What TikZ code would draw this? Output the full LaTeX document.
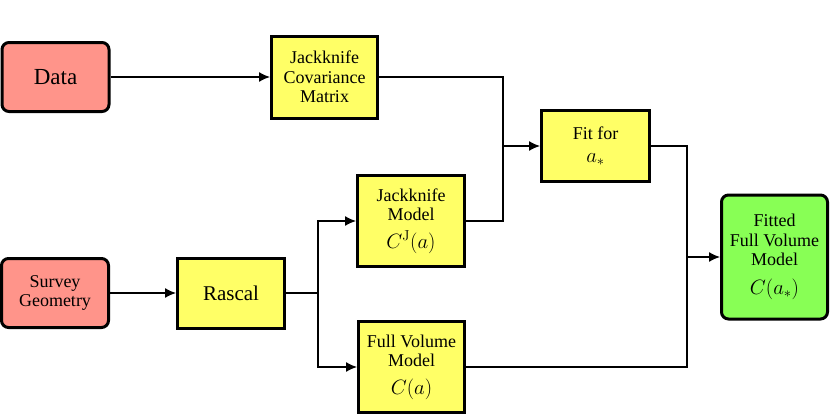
\documentclass[tikz,border=0pt]{standalone}
\usepackage[no-math]{fontspec}
\setmainfont{Liberation Serif}
\newfontfamily\timesfont{Liberation Serif}
\usetikzlibrary{arrows.meta}
\definecolor{salmon}{RGB}{255,148,138}
\definecolor{boxyellow}{RGB}{255,255,102}
\definecolor{boxgreen}{RGB}{136,255,85}
\newcommand{\mathbig}[1]{{\fontsize{21.5}{23}\selectfont #1}}
\begin{document}
\begin{tikzpicture}[x=1pt,y=-1pt,
  box/.style={draw, line width=3pt, fill=boxyellow, align=center, inner sep=0pt},
  inbox/.style={box, fill=salmon, rounded corners=7pt},
  outbox/.style={box, fill=boxgreen, rounded corners=7pt},
  conn/.style={line width=1.3pt},
  arr/.style={conn, -{Latex[length=11pt,width=10pt]}},
  mid/.style={font=\timesfont\fontsize{18}{19.5}\selectfont}]
\useasboundingbox (0,0) rectangle (830,415);

\node[inbox, minimum width=107pt, minimum height=69pt, font=\timesfont\fontsize{23}{24}\selectfont] (data) at (55.5,77) {Data};
\node[box, minimum width=106pt, minimum height=82pt, mid] (jcm) at (324.5,77) {Jackknife\\Covariance\\Matrix};
\node[inbox, minimum width=107pt, minimum height=69pt, mid] (survey) at (55,293) {Survey\\Geometry};
\node[box, minimum width=107pt, minimum height=70pt, font=\timesfont\fontsize{21}{22}\selectfont] (rascal) at (231,293) {Rascal};
\node[box, minimum width=107pt, minimum height=91pt, mid] (jm) at (411,221) {Jackknife\\Model\\[8pt]\mathbig{$C^{\mathrm{J}}(a)$}};
\node[box, minimum width=106pt, minimum height=91pt, mid] (fvm) at (411.5,367) {Full Volume\\Model\\[8pt]\mathbig{$C(a)$}};
\node[box, minimum width=108pt, minimum height=71pt, mid] (fit) at (595.5,146) {Fit for\\[3pt]\mathbig{$a_*$}};
\node[outbox, minimum width=106pt, minimum height=124pt, mid] (fitted) at (774.5,257) {Fitted\\Full Volume\\Model\\[9pt]\mathbig{$C(a_*)$}};

\coordinate (j1) at (503,146);
\coordinate (j2) at (687,257);
\coordinate (j3) at (318,293);

\draw[arr] (data) -- (jcm);
\draw[arr] (survey) -- (rascal);
\draw[conn] (rascal.east) -- (j3);
\draw[arr] (j3) |- (jm.west);
\draw[arr] (j3) |- (fvm.west);
\draw[conn] (jcm.east) -| (j1);
\draw[conn] (jm.east) -| (j1);
\draw[arr] (j1) -- (fit.west);
\draw[conn] (fit.east) -| (j2);
\draw[conn] (fvm.east) -| (j2);
\draw[arr] (j2) -- (fitted.west);
\end{tikzpicture}
\end{document}
